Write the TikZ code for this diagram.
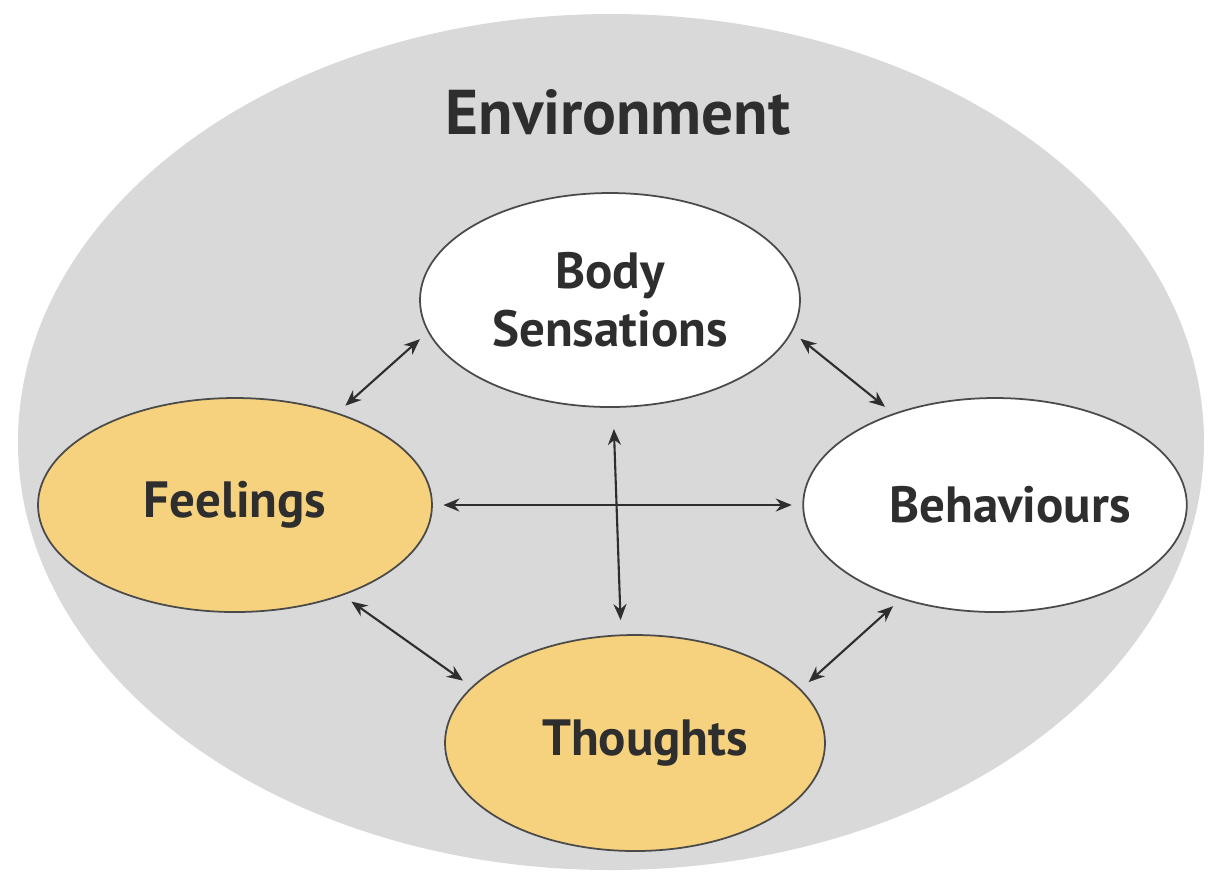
\documentclass[tikz,border=0pt]{standalone}
\usepackage{fontspec}
\setmainfont{PT Sans}
\usepackage{tikz}
\usetikzlibrary{shapes.geometric, arrows.meta, positioning, calc}
\definecolor{envbg}{HTML}{D9D9D9}
\definecolor{warmfill}{HTML}{F6D27E}
\definecolor{inkcolor}{HTML}{2E2E2E}
\definecolor{rimcolor}{HTML}{4A4A4A}

\begin{document}
\begin{tikzpicture}[every node/.style={font=\fontsize{14.5}{16.5}\selectfont\bfseries, text=inkcolor}]
\tikzstyle{bub}=[ellipse, draw=rimcolor, line width=0.5pt, inner sep=0pt, minimum width=3.8cm, minimum height=2.14cm, align=center, fill=white]
\tikzstyle{warm}=[bub, fill=warmfill]
\tikzstyle{ar}=[{Stealth[length=1.6mm, width=1.3mm]}-{Stealth[length=1.6mm, width=1.3mm]}, line width=0.6pt, color=inkcolor, shorten <=3pt, shorten >=3pt]

\useasboundingbox (0,0) rectangle (12.12,-8.79);
\fill[envbg] (6.11,-4.42) ellipse [x radius=5.93cm, y radius=4.28cm];
\node[font=\fontsize{18}{20}\selectfont\bfseries] (env) at (6.18,-1.12) {Environment};

\node[bub](body) at (6.10,-3.00){Body\\Sensations};
\node[warm, minimum width=3.94cm](feel) at (2.35,-5.05){Feelings};
\node[bub](behav) at (9.95,-5.05){\hspace{0.3cm}Behaviours};
\node[warm, minimum height=2.16cm](thought) at (6.35,-7.43){\hspace{0.2cm}Thoughts};

\draw[ar](feel.east)--(behav.west);
\draw[ar]([xshift=1pt, yshift=-3pt]body.south)--([xshift=-4pt, yshift=1pt]thought.north);
\draw[ar](feel.42)--(body.190);
\draw[ar](body.350)--(behav.138);
\draw[ar](feel.320)--(thought.161);
\draw[ar](thought.18)--(behav.225);
\end{tikzpicture}
\end{document}
